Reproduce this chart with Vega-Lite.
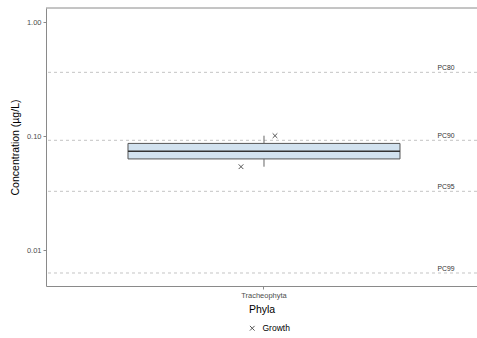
{
  "$schema": "https://vega.github.io/schema/vega-lite/v6.json",
  "autosize": {"type": "none"},
  "width": 431,
  "height": 278,
  "padding": {"left": 46, "top": 8, "right": 0, "bottom": 52},
  "background": "white",
  "config": {
    "view": {"stroke": null},
    "font": "Liberation Sans",
    "axis": {
      "grid": false,
      "domainColor": "#8a8a8a",
      "tickColor": "#8a8a8a",
      "tickSize": 3,
      "labelFontSize": 7.5,
      "labelColor": "#4d4d4d",
      "labelPadding": 2,
      "titleFontSize": 10.5,
      "titleFontWeight": "normal",
      "titleColor": "#000000"
    }
  },
  "datasets": {
    "box": [
      {"phylum": "Tracheophyta", "lower": 0.0541, "q1": 0.0633, "median": 0.0740, "q3": 0.0866, "upper": 0.1012}
    ],
    "points": [
      {"phylum": "Tracheophyta", "sample": "a", "conc": 0.0541, "endpoint": "Growth"},
      {"phylum": "Tracheophyta", "sample": "b", "conc": 0.1012, "endpoint": "Growth"}
    ],
    "pc": [
      {"label": "PC80", "conc": 0.364},
      {"label": "PC90", "conc": 0.0922},
      {"label": "PC95", "conc": 0.0329},
      {"label": "PC99", "conc": 0.00632}
    ]
  },
  "layer": [
    {
      "data": {"name": "pc"},
      "mark": {"type": "rule", "stroke": "#c4c4c4", "strokeWidth": 1, "strokeDash": [3, 3]},
      "encoding": {
        "y": {
          "field": "conc",
          "type": "quantitative",
          "scale": {"type": "log", "domain": [0.00486, 1.335], "nice": false},
          "axis": {"values": [0.01, 0.1, 1], "format": ".2f", "titlePadding": 6},
          "title": "Concentration (µg/L)"
        }
      }
    },
    {
      "data": {"values": [{}]},
      "mark": {"type": "rule", "stroke": "#8a8a8a", "strokeWidth": 1},
      "encoding": {
        "y": {"datum": 1.335, "type": "quantitative", "title": "Concentration (µg/L)"}
      }
    },
    {
      "data": {"name": "box"},
      "mark": {"type": "bar", "fill": "#d2e2ef", "stroke": "#555555", "strokeWidth": 1},
      "encoding": {
        "x": {
          "field": "phylum",
          "type": "nominal",
          "scale": {"type": "band", "paddingInner": 0, "paddingOuter": 0.2923, "align": 0.5157},
          "axis": {"labelAngle": 0, "titlePadding": 6},
          "title": "Phyla"
        },
        "y": {"field": "q1", "type": "quantitative", "title": "Concentration (µg/L)"},
        "y2": {"field": "q3"}
      }
    },
    {
      "data": {"name": "box"},
      "mark": {"type": "bar", "fill": null, "stroke": "#333333", "strokeWidth": 1.5},
      "encoding": {
        "x": {"field": "phylum", "type": "nominal", "title": "Phyla"},
        "y": {"field": "median", "type": "quantitative", "title": "Concentration (µg/L)"},
        "y2": {"field": "median"}
      }
    },
    {
      "data": {"name": "box"},
      "mark": {"type": "rule", "stroke": "#666666", "strokeWidth": 1},
      "encoding": {
        "x": {"field": "phylum", "type": "nominal", "title": "Phyla"},
        "y": {"field": "q3", "type": "quantitative", "title": "Concentration (µg/L)"},
        "y2": {"field": "upper"}
      }
    },
    {
      "data": {"name": "box"},
      "mark": {"type": "rule", "stroke": "#666666", "strokeWidth": 1},
      "encoding": {
        "x": {"field": "phylum", "type": "nominal", "title": "Phyla"},
        "y": {"field": "lower", "type": "quantitative", "title": "Concentration (µg/L)"},
        "y2": {"field": "q1"}
      }
    },
    {
      "data": {"name": "points"},
      "transform": [{"filter": "datum.sample === 'a'"}],
      "mark": {"type": "point", "filled": false, "stroke": "#555555", "strokeWidth": 1, "size": 22, "opacity": 1},
      "encoding": {
        "x": {"field": "phylum", "type": "nominal", "title": "Phyla"},
        "xOffset": {"value": 113},
        "y": {"field": "conc", "type": "quantitative", "title": "Concentration (µg/L)"},
        "shape": {
          "field": "endpoint",
          "type": "nominal",
          "scale": {"range": ["M-1,-1L1,1M-1,1L1,-1"]},
          "legend": {
            "orient": "none",
            "legendX": 202,
            "legendY": 316,
            "title": null,
            "direction": "horizontal",
            "labelFontSize": 8.5,
            "labelColor": "#000000",
            "symbolStrokeColor": "#555555",
            "symbolStrokeWidth": 1,
            "symbolSize": 22,
            "labelOffset": 6
          }
        }
      }
    },
    {
      "data": {"name": "points"},
      "transform": [{"filter": "datum.sample === 'b'"}],
      "mark": {"type": "point", "filled": false, "stroke": "#555555", "strokeWidth": 1, "size": 22, "opacity": 1},
      "encoding": {
        "x": {"field": "phylum", "type": "nominal", "title": "Phyla"},
        "xOffset": {"value": 147},
        "y": {"field": "conc", "type": "quantitative", "title": "Concentration (µg/L)"},
        "shape": {"field": "endpoint", "type": "nominal"}
      }
    },
    {
      "data": {"name": "pc"},
      "mark": {"type": "text", "fontSize": 6.8, "color": "#333333", "align": "center", "baseline": "bottom", "dx": -31, "dy": -1},
      "encoding": {
        "x": {"value": "width"},
        "y": {"field": "conc", "type": "quantitative", "title": "Concentration (µg/L)"},
        "text": {"field": "label"}
      }
    }
  ]
}
